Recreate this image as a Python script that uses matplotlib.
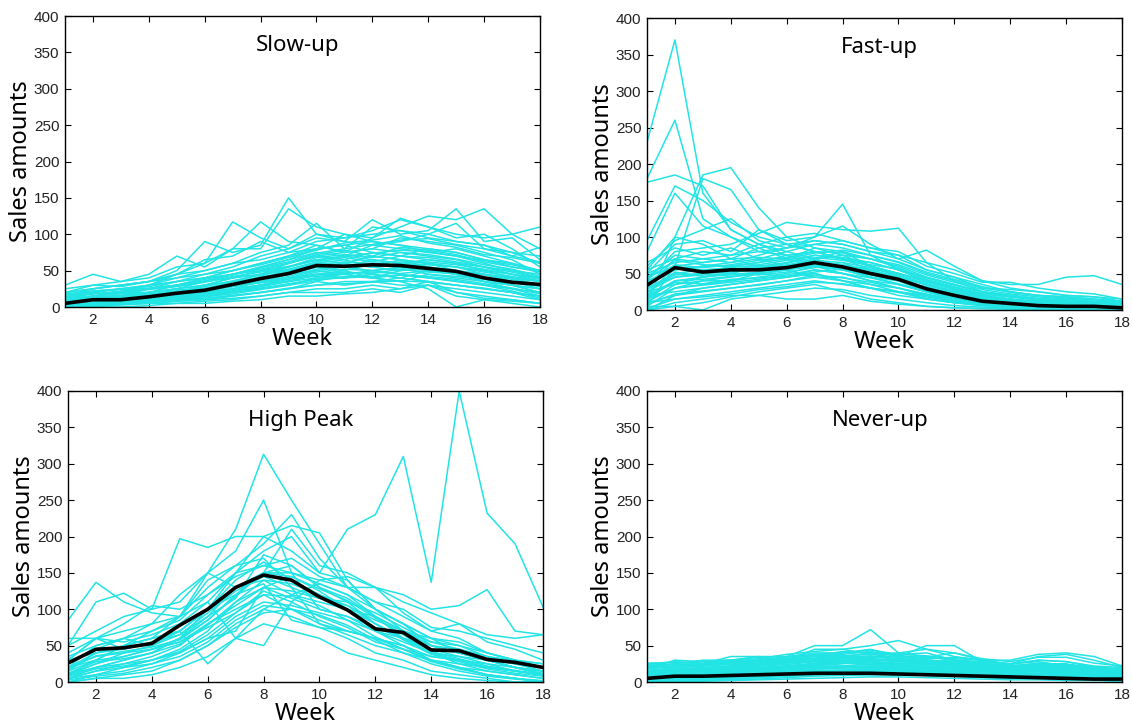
import numpy as np
import matplotlib.pyplot as plt

weeks = np.arange(1, 19)

# ---- Slow-up ----
slow_mean = [5, 10, 10, 14, 19, 23, 31, 39, 46, 57, 56, 58, 57, 53, 49, 40, 34, 31]
slow_lines = [
    [30, 45, 35, 40, 55, 60, 117, 95, 80, 100, 95, 105, 120, 110, 100, 95, 100, 110],
    [20, 30, 35, 45, 70, 55, 80, 117, 90, 85, 75, 95, 110, 125, 120, 135, 100, 80],
    [15, 25, 30, 35, 50, 90, 75, 85, 150, 100, 90, 120, 100, 105, 135, 90, 95, 65],
    [10, 20, 25, 30, 45, 60, 80, 80, 135, 110, 100, 95, 122, 110, 95, 100, 80, 55],
    [5, 15, 20, 30, 40, 50, 60, 75, 85, 115, 80, 110, 105, 100, 90, 85, 70, 82],
    [10, 15, 20, 25, 35, 45, 55, 70, 80, 95, 90, 85, 90, 100, 115, 80, 75, 60],
    [20, 25, 30, 35, 45, 65, 70, 90, 75, 80, 100, 90, 85, 75, 80, 70, 60, 50],
    [15, 20, 15, 25, 30, 40, 50, 60, 70, 85, 75, 80, 95, 90, 85, 75, 65, 45],
    [5, 10, 15, 20, 25, 35, 45, 55, 65, 75, 70, 85, 80, 75, 70, 60, 50, 40],
    [0, 5, 10, 15, 20, 30, 40, 50, 60, 70, 65, 75, 70, 65, 60, 55, 45, 35],
    [10, 12, 10, 15, 25, 20, 35, 45, 55, 65, 60, 70, 65, 60, 55, 45, 40, 30],
    [5, 8, 10, 12, 15, 25, 30, 40, 50, 60, 55, 65, 60, 55, 50, 40, 35, 25],
    [0, 5, 5, 10, 15, 20, 25, 35, 45, 55, 50, 60, 55, 50, 45, 35, 30, 20],
    [8, 10, 12, 15, 20, 25, 35, 40, 45, 50, 55, 50, 55, 60, 50, 45, 35, 30],
    [3, 5, 8, 10, 12, 15, 20, 30, 40, 45, 45, 50, 45, 40, 35, 30, 25, 15],
    [0, 3, 5, 8, 10, 15, 20, 25, 30, 40, 40, 45, 40, 35, 30, 25, 20, 10],
    [12, 15, 18, 20, 25, 30, 35, 40, 50, 60, 65, 55, 50, 55, 45, 40, 30, 25],
    [5, 10, 12, 15, 18, 20, 25, 30, 35, 45, 50, 40, 35, 45, 40, 35, 30, 20],
    [0, 2, 5, 5, 8, 10, 15, 20, 25, 30, 35, 35, 30, 30, 25, 20, 15, 10],
    [0, 0, 3, 5, 5, 8, 10, 15, 20, 25, 25, 30, 25, 30, 20, 15, 10, 5],
    [15, 20, 25, 30, 35, 40, 45, 50, 55, 65, 70, 65, 60, 65, 60, 50, 45, 40],
    [10, 15, 20, 20, 30, 35, 40, 45, 60, 70, 75, 80, 75, 70, 65, 55, 50, 45],
    [5, 10, 10, 15, 20, 25, 30, 35, 40, 50, 45, 40, 50, 55, 45, 40, 35, 30],
    [0, 5, 8, 10, 12, 18, 22, 28, 35, 45, 40, 45, 40, 50, 45, 35, 25, 20],
    [2, 5, 5, 8, 10, 12, 15, 20, 25, 35, 30, 35, 40, 35, 30, 25, 20, 15],
    [0, 2, 3, 5, 8, 10, 12, 15, 20, 20, 20, 25, 20, 30, 15, 10, 8, 5],
    [8, 12, 15, 20, 25, 30, 40, 45, 50, 55, 60, 70, 65, 60, 55, 50, 40, 35],
    [0, 0, 0, 2, 5, 5, 8, 10, 15, 15, 18, 20, 25, 35, 20, 12, 10, 5],
    [10, 15, 20, 25, 30, 35, 45, 55, 65, 80, 85, 75, 70, 80, 75, 65, 60, 50],
    [5, 8, 10, 15, 20, 22, 28, 35, 45, 55, 60, 55, 65, 55, 50, 45, 40, 35],
    [3, 5, 8, 10, 15, 20, 25, 30, 35, 40, 45, 40, 35, 25, 0, 10, 5, 0],
    [20, 25, 30, 35, 40, 45, 50, 60, 70, 80, 85, 90, 85, 80, 75, 65, 55, 50],
    [25, 30, 28, 35, 45, 50, 60, 65, 75, 90, 95, 100, 105, 95, 90, 85, 75, 70],
    [18, 22, 25, 28, 35, 40, 50, 58, 68, 78, 88, 92, 98, 88, 82, 72, 68, 60],
    [12, 18, 22, 25, 30, 38, 45, 52, 60, 72, 78, 70, 82, 78, 72, 62, 55, 48],
    [6, 12, 15, 18, 22, 28, 36, 44, 52, 62, 68, 62, 70, 68, 62, 55, 48, 40],
    [2, 6, 10, 12, 16, 22, 28, 34, 42, 52, 58, 55, 60, 58, 55, 48, 42, 36],
    [0, 3, 6, 8, 12, 16, 22, 28, 36, 44, 48, 46, 52, 48, 46, 40, 35, 28],
    [4, 8, 8, 12, 14, 18, 24, 30, 38, 48, 52, 50, 54, 45, 42, 38, 30, 25],
    [10, 14, 16, 18, 20, 24, 30, 38, 48, 58, 62, 60, 62, 62, 58, 52, 45, 38],
    [0, 2, 4, 6, 10, 14, 18, 24, 30, 36, 42, 40, 44, 42, 38, 32, 26, 18],
    [7, 10, 14, 16, 22, 26, 32, 42, 55, 68, 72, 68, 75, 72, 66, 58, 52, 42],
    [14, 18, 20, 24, 28, 34, 42, 48, 56, 64, 70, 74, 78, 76, 70, 64, 58, 50],
    [1, 3, 5, 7, 9, 12, 16, 20, 26, 30, 32, 34, 36, 34, 30, 26, 20, 15],
    [9, 11, 13, 17, 21, 25, 29, 33, 39, 42, 46, 48, 46, 50, 48, 44, 38, 30],
    [3, 7, 9, 11, 13, 17, 21, 26, 32, 38, 40, 42, 44, 40, 36, 30, 22, 12],
    [16, 22, 24, 26, 30, 36, 44, 54, 62, 74, 80, 86, 92, 94, 86, 80, 70, 62],
]

# ---- Fast-up ----
fast_mean = [34, 58, 52, 55, 55, 58, 65, 59, 50, 42, 29, 20, 12, 9, 6, 5, 5, 3]
fast_lines = [
    [230, 370, 160, 110, 90, 80, 70, 60, 45, 35, 25, 15, 10, 8, 5, 5, 3, 2],
    [180, 260, 125, 100, 85, 70, 60, 50, 40, 30, 20, 12, 8, 5, 4, 3, 2, 2],
    [175, 185, 170, 110, 90, 75, 65, 55, 45, 35, 25, 15, 10, 8, 6, 5, 4, 3],
    [95, 170, 150, 120, 100, 90, 80, 70, 55, 40, 30, 20, 15, 10, 8, 6, 5, 4],
    [80, 160, 115, 100, 80, 75, 60, 55, 50, 40, 25, 18, 12, 9, 7, 5, 4, 2],
    [10, 100, 185, 195, 140, 100, 85, 75, 60, 50, 40, 30, 20, 15, 10, 8, 6, 5],
    [5, 60, 180, 165, 110, 90, 80, 70, 60, 45, 35, 25, 18, 12, 10, 8, 6, 4],
    [60, 95, 110, 125, 95, 85, 100, 145, 75, 55, 40, 30, 20, 15, 12, 10, 8, 6],
    [40, 80, 85, 90, 105, 120, 115, 110, 108, 112, 65, 40, 25, 20, 15, 12, 10, 8],
    [50, 90, 95, 80, 110, 95, 100, 115, 90, 70, 82, 60, 40, 35, 35, 45, 47, 35],
    [30, 70, 80, 75, 90, 100, 105, 95, 85, 80, 60, 50, 38, 38, 30, 25, 22, 15],
    [20, 60, 65, 70, 85, 90, 95, 90, 80, 75, 55, 45, 30, 28, 25, 20, 18, 12],
    [40, 55, 60, 65, 70, 80, 90, 85, 75, 65, 50, 40, 30, 25, 20, 18, 15, 10],
    [25, 45, 50, 60, 65, 70, 85, 80, 70, 60, 45, 35, 25, 20, 15, 12, 10, 8],
    [15, 40, 45, 50, 60, 65, 75, 70, 65, 55, 40, 30, 20, 15, 12, 10, 8, 6],
    [30, 50, 55, 55, 60, 60, 70, 75, 70, 58, 42, 32, 22, 18, 14, 11, 9, 7],
    [10, 35, 40, 45, 50, 55, 65, 60, 55, 45, 35, 25, 15, 12, 10, 8, 6, 5],
    [5, 30, 35, 40, 45, 50, 60, 55, 45, 40, 30, 20, 12, 10, 8, 6, 5, 4],
    [20, 25, 30, 35, 40, 45, 55, 50, 40, 35, 25, 15, 10, 8, 6, 5, 4, 3],
    [0, 20, 25, 30, 35, 40, 45, 45, 35, 30, 20, 12, 8, 6, 5, 4, 3, 2],
    [10, 15, 20, 25, 30, 35, 40, 35, 30, 20, 15, 10, 6, 5, 4, 3, 2, 2],
    [0, 10, 15, 20, 20, 25, 30, 28, 20, 15, 10, 6, 4, 3, 2, 2, 1, 1],
    [5, 5, 0, 15, 20, 15, 15, 20, 12, 8, 5, 3, 2, 2, 1, 1, 1, 0],
    [50, 65, 70, 75, 80, 85, 90, 95, 85, 75, 65, 55, 40, 30, 25, 20, 18, 15],
    [35, 55, 60, 60, 65, 75, 80, 70, 60, 50, 38, 28, 18, 14, 12, 10, 8, 6],
    [45, 75, 70, 65, 75, 85, 95, 90, 80, 70, 55, 45, 35, 25, 20, 18, 15, 12],
    [15, 30, 40, 40, 50, 55, 60, 65, 50, 45, 30, 22, 15, 10, 8, 7, 5, 3],
    [25, 35, 45, 50, 50, 45, 50, 40, 35, 25, 18, 12, 8, 6, 5, 4, 3, 2],
    [55, 100, 90, 70, 60, 55, 45, 40, 30, 25, 15, 10, 8, 6, 5, 4, 3, 2],
    [65, 85, 75, 85, 70, 60, 70, 80, 60, 50, 40, 30, 22, 18, 15, 12, 10, 8],
    [10, 20, 30, 35, 40, 45, 50, 40, 30, 25, 20, 15, 10, 8, 6, 5, 5, 4],
    [0, 5, 10, 18, 25, 30, 35, 25, 15, 10, 5, 3, 2, 1, 1, 0, 0, 0],
    [45, 60, 55, 58, 62, 68, 75, 72, 65, 55, 45, 35, 25, 20, 16, 14, 12, 10],
    [28, 48, 50, 52, 55, 62, 68, 65, 58, 48, 36, 26, 16, 12, 10, 8, 7, 5],
    [20, 40, 42, 46, 50, 55, 62, 58, 52, 42, 30, 20, 12, 9, 7, 6, 5, 4],
    [12, 30, 34, 38, 42, 48, 55, 50, 44, 36, 26, 16, 10, 7, 5, 4, 3, 2],
    [38, 62, 58, 62, 68, 72, 80, 78, 70, 62, 48, 38, 28, 22, 18, 15, 12, 9],
    [8, 22, 26, 30, 34, 40, 48, 44, 38, 30, 22, 14, 8, 6, 4, 3, 2, 2],
    [30, 45, 48, 50, 48, 52, 58, 62, 56, 50, 40, 28, 18, 14, 11, 9, 8, 6],
    [18, 38, 36, 42, 44, 46, 52, 56, 48, 40, 32, 22, 14, 10, 8, 6, 5, 3],
    [55, 70, 65, 70, 72, 70, 78, 82, 75, 66, 52, 42, 32, 24, 20, 16, 14, 12],
    [2, 15, 18, 22, 28, 32, 38, 36, 30, 24, 16, 10, 6, 4, 3, 2, 2, 1],
    [42, 68, 62, 60, 58, 64, 72, 68, 62, 56, 44, 34, 24, 18, 14, 12, 10, 8],
    [24, 52, 46, 48, 52, 58, 64, 60, 54, 46, 34, 24, 14, 11, 9, 7, 6, 5],
]

# ---- High Peak ----
high_mean = [26, 45, 47, 53, 78, 100, 130, 147, 140, 117, 99, 73, 68, 44, 43, 31, 27, 20]
high_lines = [
    [10, 20, 30, 40, 60, 100, 150, 200, 180, 150, 210, 230, 310, 137, 400, 232, 190, 103],
    [20, 40, 50, 60, 90, 150, 210, 313, 250, 190, 130, 100, 70, 60, 40, 30, 20, 10],
    [30, 60, 70, 80, 120, 150, 180, 250, 150, 100, 90, 70, 60, 40, 30, 20, 15, 10],
    [50, 70, 90, 100, 197, 185, 200, 200, 215, 205, 140, 100, 80, 50, 40, 30, 25, 20],
    [85, 137, 110, 95, 90, 140, 160, 190, 230, 170, 130, 110, 90, 70, 60, 40, 30, 20],
    [50, 110, 122, 100, 110, 150, 130, 150, 210, 160, 150, 130, 120, 100, 105, 127, 70, 65],
    [30, 60, 80, 105, 100, 120, 150, 180, 200, 150, 140, 100, 80, 60, 55, 40, 30, 25],
    [20, 50, 60, 80, 90, 130, 160, 170, 130, 80, 70, 60, 50, 30, 20, 10, 5, 0],
    [10, 30, 50, 60, 70, 100, 140, 165, 140, 120, 100, 90, 70, 50, 40, 30, 20, 15],
    [5, 20, 30, 40, 60, 85, 120, 150, 160, 130, 110, 80, 60, 40, 25, 15, 10, 5],
    [15, 40, 45, 55, 65, 90, 130, 140, 120, 110, 100, 70, 50, 35, 30, 20, 15, 10],
    [25, 45, 60, 50, 70, 25, 60, 100, 120, 135, 120, 90, 60, 50, 40, 30, 20, 15],
    [40, 60, 55, 65, 80, 110, 60, 50, 110, 140, 145, 130, 95, 70, 80, 55, 45, 30],
    [10, 25, 35, 45, 55, 80, 100, 120, 100, 80, 65, 50, 40, 30, 20, 10, 5, 0],
    [5, 15, 20, 30, 45, 70, 110, 130, 115, 100, 90, 75, 60, 45, 35, 25, 15, 10],
    [20, 35, 40, 50, 65, 95, 125, 145, 130, 115, 105, 85, 70, 50, 45, 35, 25, 15],
    [0, 10, 20, 25, 40, 60, 90, 110, 105, 95, 85, 70, 55, 40, 35, 30, 20, 12],
    [35, 50, 60, 70, 85, 120, 145, 160, 150, 135, 120, 100, 80, 60, 50, 40, 30, 25],
    [10, 20, 25, 35, 50, 80, 105, 130, 125, 115, 110, 95, 75, 55, 45, 35, 25, 20],
    [0, 5, 10, 15, 30, 50, 80, 100, 90, 75, 60, 40, 30, 15, 10, 5, 0, 0],
    [15, 30, 35, 45, 60, 90, 115, 175, 160, 130, 115, 90, 70, 55, 50, 35, 30, 20],
    [5, 15, 25, 30, 40, 60, 70, 130, 145, 125, 100, 80, 60, 45, 40, 30, 20, 15],
    [60, 60, 45, 55, 70, 100, 120, 135, 85, 75, 70, 60, 50, 30, 20, 15, 10, 5],
    [20, 30, 50, 70, 90, 110, 150, 160, 170, 145, 130, 110, 100, 75, 70, 60, 50, 40],
    [0, 5, 5, 10, 20, 35, 60, 80, 70, 60, 40, 30, 20, 10, 5, 2, 0, 0],
    [30, 40, 50, 60, 70, 100, 130, 150, 150, 140, 130, 130, 110, 95, 80, 65, 60, 65],
    [10, 25, 40, 45, 55, 75, 95, 125, 110, 90, 75, 55, 45, 30, 25, 20, 15, 10],
    [5, 10, 15, 25, 35, 55, 85, 105, 100, 85, 70, 60, 45, 35, 30, 25, 20, 10],
    [8, 18, 22, 30, 42, 65, 95, 120, 118, 105, 85, 62, 45, 28, 18, 10, 5, 2],
    [3, 8, 12, 20, 30, 50, 75, 95, 100, 92, 78, 58, 40, 25, 15, 8, 4, 1],
    [12, 28, 32, 40, 52, 78, 110, 140, 135, 120, 105, 80, 58, 38, 28, 18, 12, 8],
    [18, 36, 42, 48, 58, 85, 118, 150, 145, 128, 112, 88, 65, 42, 32, 22, 16, 10],
]

# ---- Never-up ----
never_mean = [5, 8, 8, 9, 10, 11, 12, 12, 12, 11, 10, 9, 8, 7, 6, 5, 4, 4]
never_lines = [
    [22, 25, 30, 30, 35, 35, 50, 50, 72, 40, 45, 35, 30, 30, 38, 40, 35, 22],
    [20, 22, 25, 35, 35, 30, 45, 45, 50, 57, 45, 40, 30, 25, 35, 38, 30, 20],
    [18, 30, 28, 30, 30, 35, 40, 40, 45, 35, 50, 50, 28, 25, 30, 28, 20, 15],
    [15, 20, 22, 25, 28, 30, 35, 35, 40, 38, 40, 30, 25, 22, 25, 25, 18, 12],
    [25, 24, 22, 28, 32, 38, 42, 45, 38, 40, 35, 30, 28, 25, 28, 22, 18, 15],
    [12, 15, 18, 20, 25, 28, 30, 32, 35, 35, 30, 28, 22, 20, 22, 20, 15, 10],
    [10, 12, 15, 18, 20, 22, 25, 28, 30, 30, 28, 25, 20, 18, 20, 18, 12, 8],
    [8, 10, 12, 15, 18, 20, 22, 25, 28, 25, 25, 22, 18, 15, 18, 15, 10, 6],
    [5, 8, 10, 12, 15, 18, 20, 22, 25, 22, 20, 18, 15, 12, 15, 12, 8, 5],
    [3, 5, 8, 10, 12, 15, 18, 20, 22, 20, 18, 15, 12, 10, 12, 10, 6, 4],
    [2, 3, 5, 8, 10, 12, 15, 16, 18, 16, 15, 12, 10, 8, 10, 8, 5, 3],
    [1, 2, 3, 5, 7, 9, 11, 12, 14, 13, 12, 10, 8, 6, 7, 6, 4, 2],
    [0, 1, 2, 3, 4, 6, 8, 9, 10, 10, 9, 8, 6, 5, 5, 4, 3, 1],
    [0, 0, 1, 2, 3, 4, 5, 6, 7, 7, 6, 5, 4, 3, 3, 2, 2, 1],
    [20, 25, 24, 30, 28, 32, 36, 38, 42, 36, 32, 34, 30, 22, 26, 24, 20, 18],
    [16, 18, 20, 22, 26, 30, 33, 36, 34, 32, 30, 28, 24, 20, 24, 22, 18, 14],
    [14, 16, 18, 20, 22, 24, 28, 30, 32, 28, 26, 24, 20, 18, 20, 20, 16, 12],
    [10, 14, 16, 18, 22, 26, 30, 30, 28, 26, 24, 22, 18, 16, 18, 16, 14, 10],
    [6, 8, 10, 14, 16, 20, 24, 26, 24, 22, 20, 18, 16, 14, 14, 12, 10, 8],
    [4, 6, 8, 10, 12, 16, 18, 20, 20, 18, 16, 14, 12, 10, 10, 9, 8, 6],
    [2, 4, 5, 7, 9, 12, 14, 16, 16, 14, 13, 11, 9, 8, 8, 7, 6, 4],
    [0, 2, 3, 4, 6, 8, 10, 11, 12, 11, 10, 8, 7, 6, 6, 5, 4, 3],
    [24, 28, 26, 30, 34, 30, 38, 40, 44, 38, 36, 32, 30, 24, 30, 28, 22, 20],
    [18, 22, 24, 26, 30, 34, 38, 36, 38, 34, 34, 30, 26, 22, 24, 24, 20, 16],
    [12, 14, 16, 20, 24, 28, 30, 34, 30, 30, 28, 24, 22, 18, 20, 18, 14, 10],
    [8, 10, 12, 16, 18, 22, 26, 28, 28, 24, 22, 20, 16, 14, 16, 14, 10, 8],
    [22, 24, 24, 26, 28, 30, 32, 34, 36, 32, 30, 28, 26, 22, 24, 22, 20, 18],
    [19, 20, 22, 24, 26, 28, 30, 32, 32, 30, 28, 26, 22, 20, 22, 20, 18, 16],
    [16, 17, 19, 22, 24, 26, 28, 28, 30, 28, 26, 24, 20, 18, 20, 18, 16, 14],
    [13, 14, 16, 18, 20, 22, 24, 26, 26, 24, 22, 20, 18, 16, 16, 16, 14, 12],
    [11, 12, 14, 16, 18, 20, 22, 22, 22, 22, 20, 18, 16, 14, 14, 14, 12, 10],
    [9, 10, 12, 14, 16, 18, 20, 20, 20, 20, 18, 16, 14, 12, 12, 12, 10, 9],
    [7, 8, 10, 12, 14, 16, 18, 18, 18, 18, 16, 14, 12, 10, 10, 10, 9, 8],
    [5, 6, 8, 10, 12, 14, 16, 16, 16, 16, 14, 12, 10, 9, 9, 8, 7, 6],
    [3, 4, 6, 8, 10, 12, 14, 14, 14, 14, 12, 10, 9, 8, 8, 7, 6, 5],
    [2, 3, 4, 6, 8, 10, 12, 12, 12, 12, 10, 9, 8, 7, 6, 5, 5, 4],
    [1, 2, 3, 4, 6, 8, 10, 10, 10, 10, 9, 8, 7, 6, 5, 4, 4, 3],
    [26, 27, 25, 28, 30, 32, 36, 42, 40, 36, 34, 40, 32, 28, 34, 34, 26, 22],
]

titles = ["Slow-up", "Fast-up", "High Peak", "Never-up"]
groups = [(slow_lines, slow_mean), (fast_lines, fast_mean),
          (high_lines, high_mean), (never_lines, never_mean)]

# axes boxes in pixels: left, top, right, bottom
W, H = 1132, 724
boxes = [(65, 16, 540, 307), (647, 18, 1122, 310),
         (68, 391, 543, 682), (647, 391, 1122, 682)]

fig = plt.figure(figsize=(W / 100, H / 100), dpi=100)
tick_font = ['Liberation Sans Narrow', 'Liberation Sans', 'DejaVu Sans']
label_font = ['Noto Sans', 'DejaVu Sans']

for (l, t, r, b), title, (lines, mean) in zip(boxes, titles, groups):
    ax = fig.add_axes([l / W, 1 - b / H, (r - l) / W, (b - t) / H])
    for y in lines:
        ax.plot(weeks, y, color='#22e4e4', lw=1.1)
    ax.plot(weeks, mean, color='black', lw=2.6)
    ax.set_xlim(1, 18)
    ax.set_ylim(0, 400)
    ax.set_xticks(range(2, 19, 2))
    ax.set_yticks(range(0, 401, 50))
    ax.tick_params(direction='in', top=True, right=True, length=4, width=0.8,
                   labelsize=11, pad=4)
    for lab in ax.get_xticklabels() + ax.get_yticklabels():
        lab.set_family(tick_font)
        lab.set_color('#222222')
    for s in ax.spines.values():
        s.set_linewidth(1.0)
    ax.set_xlabel("Week", fontsize=17, family=label_font, labelpad=0)
    ax.set_ylabel("Sales amounts", fontsize=17, family=label_font, labelpad=1)
    ax.text(0.49, 0.9, title, transform=ax.transAxes, ha='center', va='center',
            fontsize=16, family=label_font)

fig.savefig("out.png", dpi=100)
